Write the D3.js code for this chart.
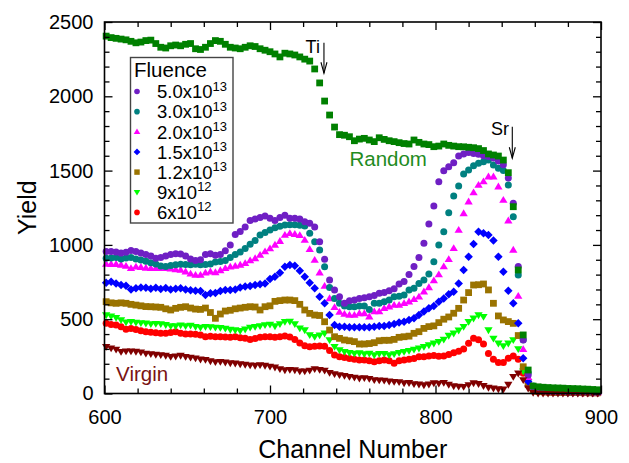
<!DOCTYPE html>
<html>
<head>
<meta charset="utf-8">
<script src="https://cdn.jsdelivr.net/npm/d3@7/dist/d3.min.js"></script>
<style>
  html, body { margin: 0; padding: 0; background: #fff; }
  svg { display: block; font-family: "Liberation Sans", Arial, sans-serif; }
</style>
</head>
<body>
<svg id="chart" width="629" height="463"></svg>
<script>
// ---------- DATA ----------
const channelStart = 601;
const channelStep = 3;
const xTicks = [600, 700, 800, 900];
const yTicks = [0, 500, 1000, 1500, 2000, 2500];

const random = [
  2405,2395,2390,2385,2380,2370,2360,2365,2375,2378,
  2355,2330,2325,2340,2345,2340,2350,2355,2320,2315,
  2330,2355,2375,2370,2350,2330,2325,2320,2330,2340,
  2335,2320,2310,2300,2285,2265,2290,2285,2278,2265,
  2250,2237,2184,2090,1968,1874,1793,1742,1738,1728,
  1701,1712,1717,1706,1695,1721,1710,1701,1695,1688,
  1682,1679,1706,1690,1679,1675,1661,1665,1679,1670,
  1665,1661,1660,1657,1654,1648,1635,1612,1605,1598,
  1571,1486,1257,831,394,158,50,45,42,40,
  38,37,36,34,33,32,30,29,27,25];

const f50e13 = [
  955,955,952,945,950,962,955,945,935,925,
  910,915,925,935,940,938,925,905,895,900,
  935,940,930,935,960,1000,1070,1090,1120,1165,
  1175,1185,1195,1180,1165,1185,1200,1180,1180,1175,
  1155,1145,1120,1022,903,764,696,651,607,625,
  629,640,645,651,660,674,680,692,705,737,
  753,800,855,915,1011,1140,1262,1425,1499,1526,
  1553,1598,1612,1621,1615,1610,1600,1595,1585,1565,
  1540,1450,1280,854,360,125,46,25,18,15,
  14,13,12,12,11,11,10,10,10,9];

const f30e13 = [
  910,912,915,905,912,915,905,898,890,880,
  872,858,855,862,866,870,868,866,870,866,
  868,872,885,888,895,916,935,952,975,1005,
  1030,1066,1084,1100,1115,1125,1134,1135,1135,1133,
  1127,1078,1022,965,853,714,640,607,589,584,
  584,589,589,566,607,607,618,629,651,655,
  663,696,708,741,764,804,887,999,1089,1217,
  1329,1396,1477,1504,1533,1549,1560,1571,1538,1515,
  1500,1403,1190,798,361,140,50,25,20,17,
  15,14,13,12,12,11,11,10,10,10];

const f20e13 = [
  872,870,870,865,858,842,853,850,845,842,
  842,842,842,840,835,831,820,805,797,797,
  812,820,815,828,842,853,858,865,876,895,
  909,932,955,975,1000,1025,1066,1078,1072,1065,
  1033,970,898,813,723,640,580,548,535,528,
  528,539,539,517,551,551,573,584,595,595,
  607,618,634,651,685,714,760,800,854,903,
  977,1100,1212,1291,1352,1403,1426,1459,1459,1392,
  1302,1163,966,656,297,110,40,20,15,13,
  12,11,10,10,9,9,8,8,8,7];

const f15e13 = [
  746,752,740,730,725,700,708,714,712,705,
  712,703,710,700,705,708,700,694,692,690,
  663,674,676,690,696,696,700,714,720,724,
  730,736,741,770,786,813,853,865,860,826,
  786,746,708,651,607,528,461,450,450,445,
  445,445,445,445,450,454,454,461,468,477,
  483,495,506,528,551,573,589,618,640,668,
  685,741,831,921,1006,1089,1078,1067,1029,921,
  820,692,607,472,237,80,30,15,12,10,
  9,8,8,7,7,6,6,6,5,5];

const f12e13 = [
  618,610,607,610,607,600,595,590,585,584,
  582,580,570,562,573,580,584,575,568,566,
  575,545,506,535,555,560,570,575,580,584,
  582,562,584,590,620,625,629,629,625,600,
  562,539,528,525,483,427,382,371,360,355,
  349,333,333,336,342,355,358,358,364,378,
  382,386,405,416,438,450,455,477,500,515,
  540,573,629,679,730,732,737,697,607,522,
  495,484,472,390,180,60,25,14,12,10,
  9,8,8,7,7,6,6,6,5,5];

const f9e12 = [
  528,520,510,495,480,483,478,475,472,468,
  470,468,462,455,454,460,455,458,450,445,
  450,448,445,443,438,430,427,423,432,445,
  450,455,461,465,454,468,483,485,468,440,
  427,394,382,392,405,360,315,293,281,275,
  270,272,266,270,259,268,268,260,266,275,
  281,288,297,304,315,326,338,349,364,390,
  405,425,450,483,506,528,517,427,371,338,
  320,338,360,300,150,80,40,20,14,12,
  10,9,9,8,8,7,7,6,6,6];

const f6e12 = [
  472,465,461,450,432,438,430,423,416,412,
  409,405,405,410,416,405,400,400,398,394,
  382,385,382,382,380,378,382,375,371,364,
  370,378,382,382,378,382,387,380,364,340,
  322,315,318,320,318,290,259,248,243,236,
  230,225,225,221,214,220,225,221,203,221,
  225,230,236,248,248,252,255,250,252,262,
  275,285,300,338,371,362,333,270,230,208,
  208,237,252,230,136,70,30,15,10,8,
  7,6,6,5,5,5,4,4,4,4];

const virgin = [
  315,305,297,281,285,285,282,278,270,266,
  262,259,255,248,250,255,248,243,238,230,
  228,218,212,214,210,205,203,198,195,190,
  188,192,188,182,176,165,158,160,158,150,
  150,155,165,160,155,140,132,125,120,113,
  108,102,105,100,91,90,88,82,80,78,
  70,72,64,62,57,62,70,68,73,60,
  50,48,46,58,70,65,52,40,35,30,
  28,60,113,136,91,35,5,0,0,0,
  0,0,0,0,0,0,0,0,0,0];

const legendLabels = [
  ["5.0x10", "13"], ["3.0x10", "13"], ["2.0x10", "13"], ["1.5x10", "13"],
  ["1.2x10", "13"], ["9x10", "12"], ["6x10", "12"]
];

// ---------- SETUP ----------
const pLeft = 104.5, pRight = 601, pTop = 22, pBottom = 393.5;
const svg = d3.select("#chart");
const x = d3.scaleLinear().domain([600, 900]).range([pLeft, pRight]);
const y = d3.scaleLinear().domain([0, 2500]).range([pBottom, pTop]);
const channels = random.map((_, i) => channelStart + i * channelStep);

function shapePath(kind, r) {
  switch (kind) {
    case "circle":
      return `M${r},0A${r},${r} 0 1,1 ${-r},0A${r},${r} 0 1,1 ${r},0Z`;
    case "square":
      return `M${-r},${-r}H${r}V${r}H${-r}Z`;
    case "diamond": {
      const d = r * 1.25;
      return `M0,${-d}L${d},0L0,${d}L${-d},0Z`;
    }
    case "up": {
      const h = r * 1.9, w = r * 1.15;
      return `M0,${-h * 0.6}L${w},${h * 0.4}L${-w},${h * 0.4}Z`;
    }
    case "down": {
      const h = r * 1.9, w = r * 1.15;
      return `M0,${h * 0.6}L${w},${-h * 0.4}L${-w},${-h * 0.4}Z`;
    }
  }
}

const series = [
  { name: "6e12", values: f6e12, color: "#ff0000", shape: "circle", r: 3.5 },
  { name: "9e12", values: f9e12, color: "#00ff00", shape: "down", r: 3.6 },
  { name: "1.2e13", values: f12e13, color: "#9a7300", shape: "square", r: 3.4 },
  { name: "1.5e13", values: f15e13, color: "#0000ff", shape: "diamond", r: 3.4 },
  { name: "2.0e13", values: f20e13, color: "#ff00ff", shape: "up", r: 3.6 },
  { name: "3.0e13", values: f30e13, color: "#008080", shape: "circle", r: 3.5 },
  { name: "5.0e13", values: f50e13, color: "#6f1fc4", shape: "circle", r: 3.5 },
  { name: "virgin", values: virgin, color: "#800000", shape: "down", r: 3.6 },
  { name: "random", values: random, color: "#008000", shape: "square", r: 3.4 }
];

const plot = svg.append("g");
series.forEach(s => {
  plot.append("g").selectAll("path")
    .data(s.values.map((v, i) => [channels[i], v]))
    .join("path")
    .attr("d", shapePath(s.shape, s.r))
    .attr("transform", d => `translate(${x(d[0])},${y(d[1])})`)
    .attr("fill", s.color);
});

// ---------- AXES ----------
const xMinor = d3.range(600, 901, 20).filter(v => v % 100 !== 0);
const yMinor = d3.range(0, 2501, 100).filter(v => v % 500 !== 0);
const axisG = svg.append("g");

function styleAxis(g) {
  g.select(".domain").remove();
  g.selectAll("line").attr("stroke", "#000").attr("stroke-width", 1.3);
}

axisG.append("g").attr("transform", `translate(0,${pBottom})`)
  .call(d3.axisBottom(x).tickValues(xTicks).tickSizeInner(-8).tickSizeOuter(0).tickPadding(16).tickFormat(d3.format("d")))
  .call(styleAxis)
  .selectAll("text").attr("font-size", 20).attr("fill", "#000").attr("font-family", "Liberation Sans, Arial, sans-serif");
axisG.append("g").attr("transform", `translate(0,${pBottom})`)
  .call(d3.axisBottom(x).tickValues(xMinor).tickSizeInner(-5).tickSizeOuter(0).tickFormat(""))
  .call(styleAxis);
axisG.append("g").attr("transform", `translate(0,${pTop})`)
  .call(d3.axisTop(x).tickValues(xTicks).tickSizeInner(-8).tickSizeOuter(0).tickFormat(""))
  .call(styleAxis);
axisG.append("g").attr("transform", `translate(0,${pTop})`)
  .call(d3.axisTop(x).tickValues(xMinor).tickSizeInner(-5).tickSizeOuter(0).tickFormat(""))
  .call(styleAxis);

axisG.append("g").attr("transform", `translate(${pLeft},0)`)
  .call(d3.axisLeft(y).tickValues(yTicks).tickSizeInner(-8).tickSizeOuter(0).tickPadding(11).tickFormat(d3.format("d")))
  .call(styleAxis)
  .selectAll("text").attr("font-size", 20).attr("fill", "#000").attr("font-family", "Liberation Sans, Arial, sans-serif");
axisG.append("g").attr("transform", `translate(${pLeft},0)`)
  .call(d3.axisLeft(y).tickValues(yMinor).tickSizeInner(-5).tickSizeOuter(0).tickFormat(""))
  .call(styleAxis);
axisG.append("g").attr("transform", `translate(${pRight},0)`)
  .call(d3.axisRight(y).tickValues(yTicks).tickSizeInner(-8).tickSizeOuter(0).tickFormat(""))
  .call(styleAxis);
axisG.append("g").attr("transform", `translate(${pRight},0)`)
  .call(d3.axisRight(y).tickValues(yMinor).tickSizeInner(-5).tickSizeOuter(0).tickFormat(""))
  .call(styleAxis);

svg.append("rect")
  .attr("x", pLeft).attr("y", pTop)
  .attr("width", pRight - pLeft).attr("height", pBottom - pTop)
  .attr("fill", "none").attr("stroke", "#000").attr("stroke-width", 1.6);

// axis titles
svg.append("text")
  .attr("x", (pLeft + pRight) / 2).attr("y", 458)
  .attr("text-anchor", "middle").attr("font-size", 25).attr("fill", "#000")
  .text("Channel Number");
svg.append("text")
  .attr("transform", `translate(36,${(pTop + pBottom) / 2}) rotate(-90)`)
  .attr("text-anchor", "middle").attr("font-size", 25).attr("fill", "#000")
  .text("Yield");

// ---------- ANNOTATIONS ----------
function arrow(ch, y0, y1) {
  const g = svg.append("g").attr("stroke", "#000").attr("stroke-width", 1.1).attr("fill", "none");
  const xx = x(ch), ya = y(y0), yb = y(y1);
  g.append("line").attr("x1", xx).attr("x2", xx).attr("y1", ya).attr("y2", yb);
  g.append("path").attr("d", `M${xx - 3},${yb - 11}L${xx},${yb}L${xx + 3},${yb - 11}`);
}
arrow(732.6, 2360, 2155);
arrow(846.4, 1795, 1583);

svg.append("text").attr("x", x(721.5)).attr("y", y(2290)).attr("font-size", 18).attr("fill", "#000").text("Ti");
svg.append("text").attr("x", x(833.5)).attr("y", y(1738)).attr("font-size", 18).attr("fill", "#000").text("Sr");
svg.append("text").attr("x", x(748)).attr("y", y(1530)).attr("font-size", 20.5).attr("fill", "#1f8c1f").text("Random");
svg.append("text").attr("x", x(607)).attr("y", y(84)).attr("font-size", 20.5).attr("fill", "#7a1212").text("Virgin");

// ---------- LEGEND ----------
const lg = svg.append("g");
lg.append("rect").attr("x", 130.5).attr("y", 57.5).attr("width", 102.5).attr("height", 165.5)
  .attr("fill", "#fff").attr("stroke", "#444").attr("stroke-width", 1.4);
lg.append("text").attr("x", 134).attr("y", 77).attr("font-size", 20.5).attr("fill", "#000").text("Fluence");
const legendSeries = ["5.0e13", "3.0e13", "2.0e13", "1.5e13", "1.2e13", "9e12", "6e12"]
  .map(n => series.find(s => s.name === n));
legendSeries.forEach((s, i) => {
  const cy = 91.5 + i * 20.15;
  lg.append("path").attr("d", shapePath(s.shape, s.r * 0.8))
    .attr("transform", `translate(137,${cy})`).attr("fill", s.color);
  const t = lg.append("text").attr("x", 157).attr("y", cy + 6.8).attr("font-size", 18.5).attr("fill", "#000");
  t.append("tspan").text(legendLabels[i][0]);
  t.append("tspan").attr("dy", -7.8).attr("font-size", 13).text(legendLabels[i][1]);
});
</script>
</body>
</html>
